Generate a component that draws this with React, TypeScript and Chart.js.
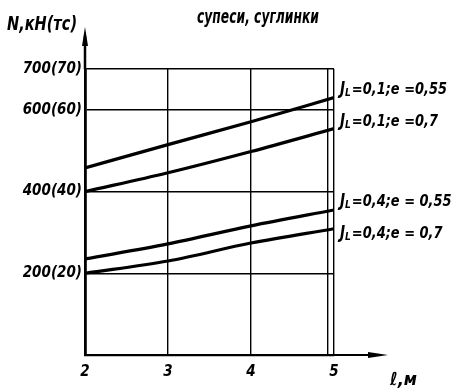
import React, { useEffect, useRef } from "react";
import { Chart, registerables } from "chart.js";

Chart.register(...registerables);

// Pile length, m
const lengths = [2, 3, 4, 5];
// Bearing capacity N, kN, for each soil state
const il01e055 = [458, 515, 571, 630];
const il01e07 = [400, 446, 498, 554];
const il04e055 = [235, 272, 316, 355];
const il04e07 = [200, 230, 274, 309];

const seriesValues = [il01e055, il01e07, il04e055, il04e07];
const seriesIl = ["0,1", "0,1", "0,4", "0,4"];
const seriesE = ["=0,55", "=0,7", "= 0,55", "= 0,7"];

const yTicks = [200, 400, 600, 700];
const xTicks = [2, 3, 4, 4.92, 5];
const xLabelled = [2, 3, 4, 5];

const title = "супеси, суглинки";
const yTitle = "N,кН(тс)";
const xTitle = "ℓ,м";

const FONT = "'DejaVu Sans Condensed', 'DejaVu Sans', sans-serif";
// vertical shift of each curve label from the curve's end point, px
const labelShift = [-10, -9, -10, 3];

// text squeezed horizontally, like narrow hand lettering
function narrowText(ctx: CanvasRenderingContext2D, text: string, x: number, y: number, sx: number) {
  ctx.save();
  ctx.translate(x, y);
  ctx.scale(sx, 1);
  ctx.fillText(text, 0, 0);
  ctx.restore();
}

const annotate = {
  id: "annotate",
  afterDraw(chart: Chart) {
    const { ctx, chartArea } = chart;
    const xs = chart.scales.x;
    const ys = chart.scales.y;
    ctx.save();
    ctx.fillStyle = "#000";
    ctx.strokeStyle = "#000";

    // y axis arrow
    ctx.lineWidth = 2.5;
    ctx.beginPath();
    ctx.moveTo(chartArea.left, chartArea.top);
    ctx.lineTo(chartArea.left, 36);
    ctx.stroke();
    ctx.beginPath();
    ctx.moveTo(chartArea.left, 27);
    ctx.lineTo(chartArea.left - 3, 46);
    ctx.lineTo(chartArea.left + 3, 46);
    ctx.closePath();
    ctx.fill();

    // x axis arrow
    ctx.lineWidth = 2;
    ctx.beginPath();
    ctx.moveTo(chartArea.right, chartArea.bottom);
    ctx.lineTo(378, chartArea.bottom);
    ctx.stroke();
    ctx.beginPath();
    ctx.moveTo(388, chartArea.bottom);
    ctx.lineTo(368, chartArea.bottom - 3);
    ctx.lineTo(368, chartArea.bottom + 3);
    ctx.closePath();
    ctx.fill();

    // titles
    ctx.textBaseline = "alphabetic";
    ctx.textAlign = "left";
    ctx.font = `italic bold 19px ${FONT}`;
    narrowText(ctx, yTitle, 7, 30, 0.85);
    ctx.font = `italic bold 19px ${FONT}`;
    ctx.textAlign = "center";
    narrowText(ctx, title, 258, 23, 0.72);
    ctx.textAlign = "left";
    ctx.font = `italic bold 18px ${FONT}`;
    narrowText(ctx, xTitle, 390, 385, 1);

    // curve labels
    const lastX = lengths[lengths.length - 1];
    seriesValues.forEach((vals, i) => {
      const y = ys.getPixelForValue(vals[vals.length - 1]) + labelShift[i] + 6;
      let x = xs.getPixelForValue(lastX) + 6;
      ctx.font = `italic bold 17px ${FONT}`;
      narrowText(ctx, "J", x, y, 0.9);
      x += ctx.measureText("J").width * 0.9;
      ctx.font = `italic bold 10px ${FONT}`;
      ctx.fillText("L", x, y + 2);
      x += ctx.measureText("L").width + 1;
      ctx.font = `italic bold 16px ${FONT}`;
      narrowText(ctx, `=${seriesIl[i]};e ${seriesE[i]}`, x, y, 0.9);
    });
    ctx.restore();
  },
};

export default function App() {
  const ref = useRef<HTMLCanvasElement>(null);
  useEffect(() => {
    if (!ref.current) return;
    const chart = new Chart(ref.current, {
      type: "line",
      data: {
        datasets: seriesValues.map((vals) => ({
          data: vals.map((v, i) => ({ x: lengths[i], y: v })),
          borderColor: "#000",
          borderWidth: 3.2,
          pointRadius: 0,
          cubicInterpolationMode: "monotone" as const,
          fill: false,
        })),
      },
      options: {
        animation: false,
        responsive: false,
        events: [],
        layout: { padding: { top: 69, right: 142, left: 0, bottom: 0 } },
        plugins: { legend: { display: false }, tooltip: { enabled: false } },
        scales: {
          x: {
            type: "linear",
            min: 2,
            max: 5,
            afterBuildTicks: (s: any) => {
              s.ticks = xTicks.map((v) => ({ value: v }));
            },
            afterFit: (s: any) => {
              s.height = 36;
            },
            ticks: {
              autoSkip: false,
              maxRotation: 0,
              padding: 8,
              color: "#000",
              font: { family: FONT, size: 15, style: "italic", weight: "bold" },
              callback: (v: any) => (xLabelled.includes(Number(v)) ? String(v) : ""),
            },
            grid: { color: "#000", lineWidth: 1.4, drawTicks: false },
            border: { color: "#000", width: 2.2 },
          },
          y: {
            type: "linear",
            min: 0,
            max: 700,
            afterBuildTicks: (s: any) => {
              s.ticks = yTicks.map((v) => ({ value: v }));
            },
            afterFit: (s: any) => {
              s.width = 85;
            },
            ticks: {
              autoSkip: false,
              padding: 3,
              color: "#000",
              font: { family: FONT, size: 15, style: "italic", weight: "bold" },
              callback: (v: any) => `${v}(${Number(v) / 10})`,
            },
            grid: { color: "#000", lineWidth: 1.4, drawTicks: false },
            border: { color: "#000", width: 2.8 },
          },
        },
      },
      plugins: [annotate],
    });
    return () => chart.destroy();
  }, []);
  return (
    <div style={{ position: "fixed", left: 0, top: 0, width: 476, height: 391, background: "#fff" }}>
      <canvas ref={ref} width={476} height={391} style={{ display: "block" }} />
    </div>
  );
}
